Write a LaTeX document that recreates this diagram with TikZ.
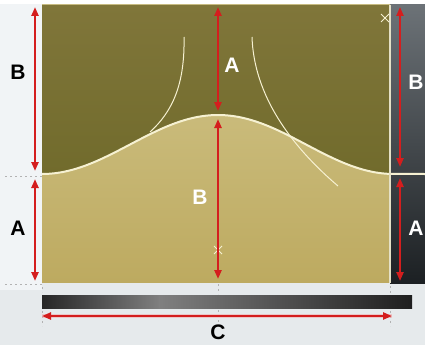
\documentclass[tikz,border=0pt]{standalone}
\usepackage{fontspec}
\setmainfont{Liberation Sans}
\usetikzlibrary{arrows.meta}
\definecolor{bgc}{HTML}{E6EAEC}
\definecolor{leftc}{HTML}{F1F4F6}
\definecolor{olivedark}{HTML}{80763A}
\definecolor{olivedark2}{HTML}{716B2C}
\definecolor{olivelight}{HTML}{D2C68C}
\definecolor{olivelight2}{HTML}{BDAA60}
\definecolor{redarr}{HTML}{D41E1E}
\definecolor{linec}{HTML}{F6F1D2}
\definecolor{stripTop}{HTML}{6C7277}
\definecolor{stripBot}{HTML}{1C2023}
\tikzset{
  dimarrow/.style={draw=redarr, line width=2.2pt, {Triangle[length=9pt,width=7pt]}-{Triangle[length=9pt,width=7pt]}},
  halo/.style={draw=redarr!35, line width=4pt, opacity=0.6},
  lbl/.style={font=\fontsize{21}{21}\selectfont\bfseries, inner sep=0pt},
  guide/.style={draw=gray!60, line width=0.6pt, dash pattern=on 2pt off 3pt},
}
\begin{document}
\begin{tikzpicture}[x=1pt,y=-1pt]
\useasboundingbox (0,0) rectangle (425,345);
\fill[bgc] (0,0) rectangle (425,345);
\fill[leftc] (0,0) rectangle (42,290);
\fill[white] (0,0) rectangle (425,4);
% right dark strip
\shade[top color=stripTop, bottom color=stripBot] (390,5) rectangle (425,283);
% lower (light) region
\shade[top color=olivelight, bottom color=olivelight2] (42,5) rectangle (390,282);
% upper (dark) region
\shade[top color=olivedark, bottom color=olivedark2]
  (42,5) -- (390,5) -- (390,174)
  -- plot[domain=390:42, samples=90] (\x,{174-29.5*(1+cos(1.0227*(\x-218)))}) -- cycle;
% construction arcs
\draw[linec, line width=1pt] (184,37) .. controls (185,85) and (172,112) .. (150,132);
\draw[linec, line width=1pt] (252,37) .. controls (254,95) and (290,145) .. (338,186);
% boundary curve
\draw[linec, line width=2pt] plot[domain=42:390, samples=90] (\x,{174-29.5*(1+cos(1.0227*(\x-218)))}) -- (425,174);
\draw[linec!85!gray, line width=1.3pt] (390,5) -- (390,283);
% bottom bar
\shade[left color=black!85, right color=black!50] (42,295) rectangle (160,308);
\shade[left color=black!50, right color=black!88] (159.5,295) rectangle (412,308);
% guides
\draw[guide] (5,176) -- (42,176);
\draw[guide] (5,284) -- (42,284);
\draw[guide] (42,287) -- (42,292);
\draw[guide] (218,284) -- (218,294);
\draw[guide] (390,286) -- (390,294);
\draw[guide] (42,311) -- (42,326);
\draw[guide] (218,310) -- (218,322);
\draw[guide] (390,311) -- (390,326);
% marks
\draw[linec, line width=0.8pt] (214,246) -- (222,254) (214,254) -- (222,246);
\draw[linec, line width=0.8pt] (381,14) -- (389,22) (381,22) -- (389,14);
% coordinates
\coordinate (lbT) at (35,7);
\coordinate (lbB) at (35,171);
\coordinate (laT) at (35,179);
\coordinate (laB) at (35,281);
\coordinate (maT) at (218,7);
\coordinate (maB) at (218,111);
\coordinate (mbT) at (218,119);
\coordinate (mbB) at (218,279);
\coordinate (rbT) at (400,7);
\coordinate (rbB) at (400,167);
\coordinate (raT) at (400,178);
\coordinate (raB) at (400,281);
\coordinate (cL) at (42,316);
\coordinate (cR) at (392,316);
\path[halo] (cL) -- (cR);
\foreach \a/\b in {lbT/lbB,laT/laB,maT/maB,mbT/mbB,rbT/rbB,raT/raB,cL/cR}
  \draw[dimarrow] (\a) -- (\b);
% labels
\node[lbl, text=black] (tB1) at (18,72) {B};
\node[lbl, text=black] (tA1) at (18,228) {A};
\node[lbl, text=white] (tA2) at (232,65) {A};
\node[lbl, text=white] (tB2) at (200,197) {B};
\node[lbl, text=white] (tB3) at (416,82) {B};
\node[lbl, text=white] (tA3) at (416,228) {A};
\node[lbl, text=black] (tC) at (218,332) {C};
\end{tikzpicture}
\end{document}
